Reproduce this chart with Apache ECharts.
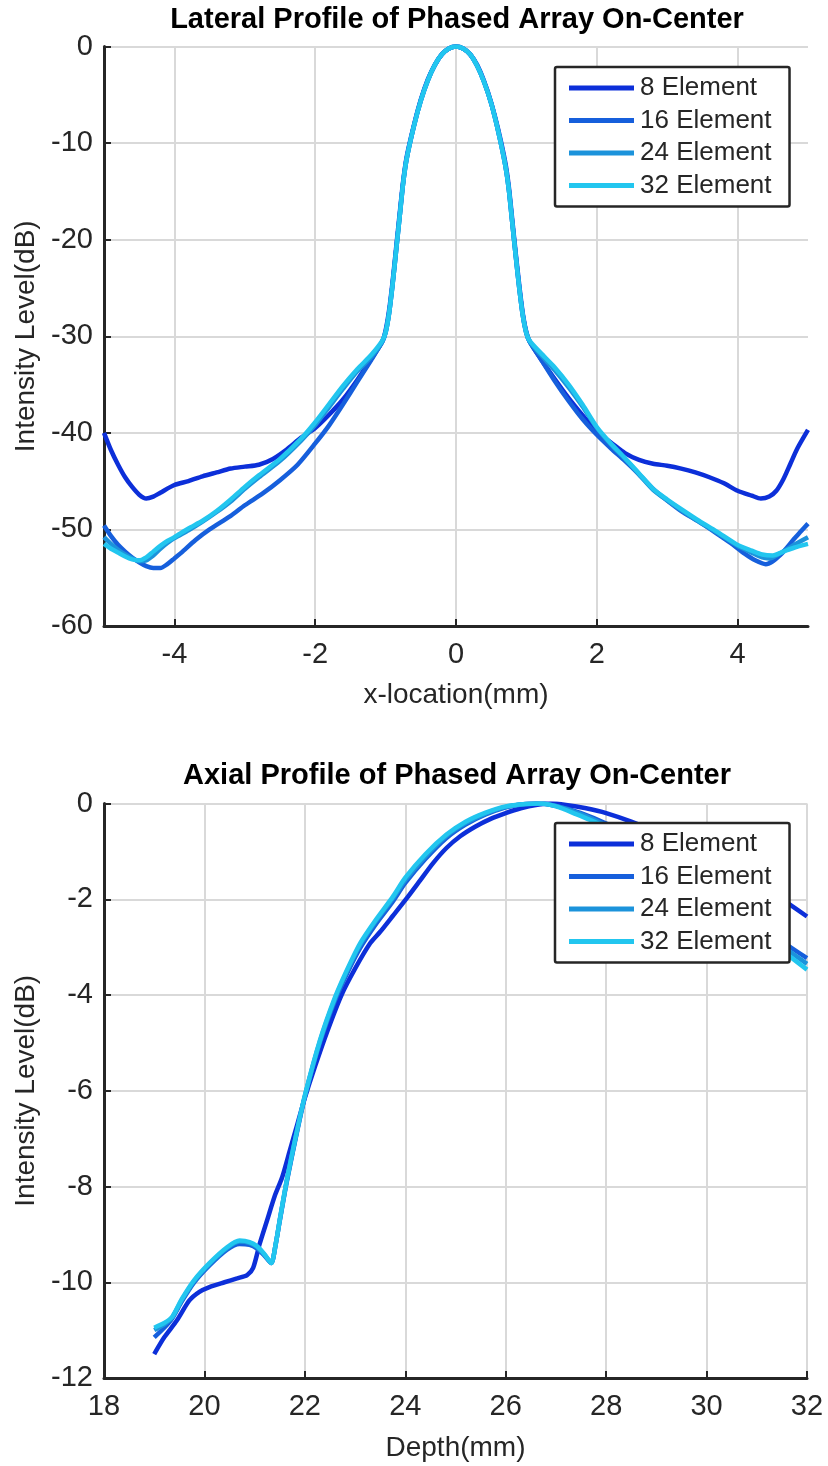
<!DOCTYPE html>
<html>
<head>
<meta charset="utf-8">
<script src="https://cdn.jsdelivr.net/npm/echarts@6/dist/echarts.min.js"></script>
<style>
  html, body { margin: 0; padding: 0; background: #ffffff; }
  #chart { width: 828px; height: 1466px; }
</style>
</head>
<body>
<div id="chart"></div>
<script>
// Element counts shown in both panels
const seriesNames = ['8 Element', '16 Element', '24 Element', '32 Element'];
const lineColors = ['#0c2fd9', '#165fdc', '#1c93db', '#22c6ef'];

// Lateral panel ticks
const lateralXTicks = [-4, -2, 0, 2, 4];
const lateralYTicks = [-60, -50, -40, -30, -20, -10, 0];
// Axial panel ticks
const axialXTicks = [18, 20, 22, 24, 26, 28, 30, 32];
const axialYTicks = [-12, -10, -8, -6, -4, -2, 0];

// Lateral profiles: [x-location (mm), intensity (dB)]
const lateral8 = [
  [-5.0, -40.0], [-4.9, -41.8], [-4.8, -43.3], [-4.7, -44.6], [-4.6, -45.6], [-4.5, -46.4],
  [-4.4, -46.8], [-4.3, -46.6], [-4.2, -46.2], [-4.0, -45.4], [-3.8, -45.0], [-3.6, -44.5],
  [-3.4, -44.1], [-3.2, -43.7], [-3.0, -43.5], [-2.8, -43.3], [-2.6, -42.7], [-2.4, -41.7],
  [-2.2, -40.5], [-2.0, -39.5], [-1.8, -38.1], [-1.6, -36.5], [-1.4, -34.5], [-1.2, -32.3],
  [-1.05, -30.6], [-1.0, -29.4], [-0.95, -27.3], [-0.9, -24.3], [-0.85, -20.8], [-0.8, -17.3],
  [-0.75, -13.9], [-0.7, -11.4], [-0.6, -8.2], [-0.5, -5.5], [-0.4, -3.4], [-0.3, -1.9],
  [-0.2, -0.8], [-0.1, -0.2], [0.0, 0.0], [0.1, -0.2], [0.2, -0.8], [0.3, -1.9],
  [0.4, -3.6], [0.5, -5.8], [0.6, -8.6], [0.7, -12.0], [0.75, -14.5], [0.8, -18.0],
  [0.85, -21.5], [0.9, -24.8], [0.95, -27.7], [1.0, -29.6], [1.05, -30.6], [1.2, -32.3],
  [1.4, -34.4], [1.6, -36.4], [1.8, -38.2], [2.0, -39.9], [2.2, -41.0], [2.4, -42.1],
  [2.6, -42.8], [2.8, -43.2], [3.0, -43.4], [3.2, -43.7], [3.4, -44.1], [3.6, -44.6],
  [3.8, -45.2], [4.0, -46.0], [4.2, -46.5], [4.33, -46.8], [4.45, -46.6], [4.55, -46.0],
  [4.65, -44.8], [4.75, -43.2], [4.85, -41.6], [5.0, -39.7]
];
const lateral16 = [
  [-5.0, -49.6], [-4.9, -50.7], [-4.8, -51.6], [-4.7, -52.3], [-4.6, -52.9], [-4.5, -53.4],
  [-4.4, -53.8], [-4.3, -54.0], [-4.2, -54.0], [-4.1, -53.6], [-4.0, -53.0], [-3.9, -52.4],
  [-3.7, -51.1], [-3.5, -50.0], [-3.2, -48.6], [-3.0, -47.5], [-2.75, -46.3], [-2.5, -44.9],
  [-2.25, -43.3], [-2.0, -41.1], [-1.8, -39.2], [-1.6, -37.0], [-1.4, -34.7], [-1.2, -32.4],
  [-1.05, -30.6], [-1.0, -29.6], [-0.95, -27.6], [-0.9, -24.6], [-0.85, -21.1], [-0.8, -17.6],
  [-0.75, -14.1], [-0.7, -11.6], [-0.6, -8.3], [-0.5, -5.6], [-0.4, -3.5], [-0.3, -1.9],
  [-0.2, -0.8], [-0.1, -0.2], [0.0, 0.0], [0.1, -0.2], [0.2, -0.8], [0.3, -2.0],
  [0.4, -3.7], [0.5, -5.9], [0.6, -8.8], [0.7, -12.3], [0.75, -14.8], [0.8, -18.3],
  [0.85, -21.8], [0.9, -25.1], [0.95, -27.9], [1.0, -29.7], [1.05, -30.6], [1.2, -32.3],
  [1.4, -34.6], [1.6, -36.7], [1.8, -38.6], [2.0, -40.2], [2.2, -41.6], [2.4, -42.9],
  [2.6, -44.3], [2.8, -45.8], [3.0, -47.0], [3.2, -48.1], [3.45, -49.2], [3.7, -50.4],
  [3.9, -51.4], [4.1, -52.5], [4.25, -53.2], [4.4, -53.6], [4.5, -53.3], [4.6, -52.7],
  [4.7, -51.9], [4.8, -51.0], [4.9, -50.2], [5.0, -49.4]
];
const lateral24 = [
  [-5.0, -50.8], [-4.9, -51.5], [-4.8, -52.1], [-4.7, -52.6], [-4.6, -53.0], [-4.5, -53.3],
  [-4.4, -53.2], [-4.3, -52.7], [-4.2, -52.0], [-4.1, -51.4], [-4.0, -50.9], [-3.8, -50.1],
  [-3.6, -49.2], [-3.4, -48.2], [-3.2, -47.1], [-3.0, -45.8], [-2.8, -44.6], [-2.5, -42.9],
  [-2.2, -40.8], [-2.0, -39.2], [-1.8, -37.3], [-1.6, -35.4], [-1.4, -33.6], [-1.2, -32.1],
  [-1.05, -30.6], [-1.0, -29.6], [-0.95, -27.6], [-0.9, -24.6], [-0.85, -21.1], [-0.8, -17.6],
  [-0.75, -14.1], [-0.7, -11.6], [-0.6, -8.3], [-0.5, -5.6], [-0.4, -3.5], [-0.3, -1.9],
  [-0.2, -0.8], [-0.1, -0.2], [0.0, 0.0], [0.1, -0.2], [0.2, -0.8], [0.3, -2.0],
  [0.4, -3.7], [0.5, -5.9], [0.6, -8.8], [0.7, -12.3], [0.75, -14.8], [0.8, -18.3],
  [0.85, -21.8], [0.9, -25.1], [0.95, -27.9], [1.0, -29.7], [1.05, -30.6], [1.2, -31.9],
  [1.4, -33.5], [1.6, -35.3], [1.8, -37.3], [2.0, -39.5], [2.2, -41.2], [2.4, -42.7],
  [2.6, -44.3], [2.8, -45.9], [3.0, -47.0], [3.2, -48.0], [3.45, -49.2], [3.7, -50.3],
  [4.0, -51.7], [4.2, -52.4], [4.35, -52.9], [4.45, -53.0], [4.6, -52.5], [4.8, -51.6],
  [5.0, -50.8]
];
const lateral32 = [
  [-5.0, -51.5], [-4.9, -52.0], [-4.8, -52.4], [-4.7, -52.8], [-4.6, -53.1], [-4.5, -53.2],
  [-4.4, -52.9], [-4.3, -52.3], [-4.2, -51.7], [-4.1, -51.2], [-4.0, -50.8], [-3.8, -49.9],
  [-3.6, -49.1], [-3.4, -48.1], [-3.2, -46.9], [-3.0, -45.6], [-2.8, -44.4], [-2.5, -42.7],
  [-2.2, -40.6], [-2.0, -38.9], [-1.8, -37.0], [-1.6, -35.1], [-1.4, -33.4], [-1.2, -31.9],
  [-1.05, -30.5], [-1.0, -29.6], [-0.95, -27.6], [-0.9, -24.6], [-0.85, -21.1], [-0.8, -17.6],
  [-0.75, -14.1], [-0.7, -11.6], [-0.6, -8.3], [-0.5, -5.6], [-0.4, -3.5], [-0.3, -1.9],
  [-0.2, -0.8], [-0.1, -0.2], [0.0, 0.0], [0.1, -0.2], [0.2, -0.8], [0.3, -2.0],
  [0.4, -3.7], [0.5, -5.9], [0.6, -8.8], [0.7, -12.3], [0.75, -14.8], [0.8, -18.3],
  [0.85, -21.8], [0.9, -25.1], [0.95, -27.9], [1.0, -29.7], [1.05, -30.5], [1.2, -31.7],
  [1.4, -33.2], [1.6, -35.0], [1.8, -37.1], [2.0, -39.4], [2.2, -41.1], [2.4, -42.6],
  [2.6, -44.2], [2.8, -45.8], [3.0, -46.9], [3.2, -47.9], [3.45, -49.1], [3.7, -50.2],
  [4.0, -51.6], [4.2, -52.2], [4.35, -52.6], [4.5, -52.7], [4.65, -52.3], [4.8, -51.9],
  [5.0, -51.5]
];

// Axial profiles: [depth (mm), intensity (dB)]
const axial8 = [
  [19.0, -11.5], [19.2, -11.15], [19.45, -10.8], [19.7, -10.38], [19.9, -10.2], [20.1, -10.1],
  [20.4, -10.0], [20.65, -9.92], [20.85, -9.85], [20.97, -9.7], [21.1, -9.2], [21.25, -8.7],
  [21.4, -8.2], [21.55, -7.8], [21.7, -7.25], [21.85, -6.7], [22.0, -6.15], [22.2, -5.5],
  [22.45, -4.75], [22.73, -4.0], [23.0, -3.45], [23.3, -2.92], [23.5, -2.68], [23.75, -2.35],
  [24.05, -1.95], [24.3, -1.6], [24.55, -1.25], [24.82, -0.93], [25.1, -0.68], [25.4, -0.48],
  [25.7, -0.32], [26.0, -0.2], [26.3, -0.1], [26.6, -0.03], [26.9, 0.0], [27.2, -0.03],
  [27.6, -0.1], [28.0, -0.2], [28.5, -0.38], [29.0, -0.6], [29.5, -0.85], [30.0, -1.1],
  [30.5, -1.38], [31.0, -1.68], [31.6, -2.07], [32.0, -2.36]
];
const axial16 = [
  [19.0, -11.15], [19.2, -10.95], [19.36, -10.75], [19.55, -10.4], [19.8, -10.0], [20.1, -9.65],
  [20.45, -9.32], [20.7, -9.2], [20.9, -9.22], [21.05, -9.3], [21.2, -9.45], [21.33, -9.6],
  [21.42, -9.2], [21.5, -8.72], [21.64, -7.9], [21.83, -6.93], [22.0, -6.13], [22.3, -5.0],
  [22.6, -4.12], [22.85, -3.53], [23.1, -3.02], [23.4, -2.54], [23.75, -2.05], [24.0, -1.66],
  [24.4, -1.16], [24.82, -0.72], [25.2, -0.44], [25.6, -0.23], [26.0, -0.08], [26.3, -0.02],
  [26.6, 0.0], [27.0, -0.05], [27.5, -0.2], [28.0, -0.42], [28.5, -0.7], [29.0, -1.02],
  [29.5, -1.36], [30.0, -1.72], [30.5, -2.1], [31.0, -2.5], [31.6, -2.95], [32.0, -3.23]
];
const axial24 = [
  [19.0, -11.0], [19.2, -10.88], [19.36, -10.73], [19.55, -10.37], [19.8, -9.97], [20.1, -9.62],
  [20.45, -9.29], [20.7, -9.15], [20.9, -9.18], [21.05, -9.27], [21.2, -9.43], [21.33, -9.6],
  [21.42, -9.2], [21.5, -8.7], [21.64, -7.88], [21.83, -6.91], [22.0, -6.11], [22.3, -4.97],
  [22.6, -4.08], [22.85, -3.48], [23.1, -2.96], [23.4, -2.48], [23.75, -1.99], [24.0, -1.6],
  [24.4, -1.11], [24.82, -0.68], [25.2, -0.41], [25.6, -0.21], [26.0, -0.07], [26.4, -0.01],
  [26.65, 0.0], [27.0, -0.05], [27.5, -0.22], [28.0, -0.46], [28.5, -0.75], [29.0, -1.08],
  [29.5, -1.43], [30.0, -1.8], [30.5, -2.2], [31.0, -2.6], [31.6, -3.05], [32.0, -3.35]
];
const axial32 = [
  [19.0, -10.95], [19.2, -10.85], [19.36, -10.72], [19.55, -10.35], [19.8, -9.95], [20.1, -9.6],
  [20.45, -9.27], [20.7, -9.13], [20.9, -9.16], [21.05, -9.25], [21.2, -9.42], [21.33, -9.6],
  [21.42, -9.2], [21.5, -8.7], [21.64, -7.87], [21.83, -6.9], [22.0, -6.1], [22.3, -4.95],
  [22.6, -4.05], [22.85, -3.45], [23.1, -2.92], [23.4, -2.45], [23.75, -1.95], [24.0, -1.55],
  [24.4, -1.06], [24.82, -0.65], [25.2, -0.38], [25.6, -0.19], [26.0, -0.06], [26.4, -0.01],
  [26.7, 0.0], [27.0, -0.06], [27.4, -0.22], [27.7, -0.35], [28.0, -0.5], [28.5, -0.8],
  [29.0, -1.15], [29.5, -1.5], [30.0, -1.9], [30.5, -2.3], [31.0, -2.72], [31.6, -3.15],
  [32.0, -3.47]
];

const lateralData = [lateral8, lateral16, lateral24, lateral32];
const axialData = [axial8, axial16, axial24, axial32];

const inkColor = '#262626';
const gridColor = '#d9d9d9';
const fontFamily = '"Liberation Sans", Arial, Helvetica, sans-serif';

function valueAxis(gridIndex, min, max, ticks, labelMargin, extra) {
  return Object.assign({
    type: 'value',
    gridIndex: gridIndex,
    min: min,
    max: max,
    axisLine: { show: true, onZero: false, lineStyle: { color: inkColor, width: 3 } },
    axisTick: { show: true, inside: true, length: 7, customValues: ticks,
                lineStyle: { color: inkColor, width: 2 } },
    axisLabel: { show: true, customValues: ticks, color: inkColor, fontSize: 29,
                 fontFamily: fontFamily, margin: labelMargin },
    splitLine: { show: true, lineStyle: { color: gridColor, width: 2 } },
    nameTextStyle: { color: inkColor, fontSize: 28, fontFamily: fontFamily }
  }, extra || {});
}

function legendAt(top) {
  return {
    data: seriesNames,
    orient: 'vertical',
    left: 555,
    top: top,
    z: 20,
    icon: 'rect',
    itemWidth: 65,
    itemHeight: 5,
    itemGap: 6.5,
    selectedMode: false,
    backgroundColor: '#ffffff',
    borderColor: inkColor,
    borderWidth: 2.5,
    borderRadius: 2,
    padding: [8, 18, 8, 14],
    textStyle: { color: inkColor, fontSize: 26, fontFamily: fontFamily, padding: [0, 0, 0, 1] }
  };
}

const series = [];
seriesNames.forEach(function (name, i) {
  series.push({
    name: name, type: 'line', xAxisIndex: 0, yAxisIndex: 0,
    data: lateralData[i], showSymbol: false, smooth: 0.25, z: 2 + i,
    lineStyle: { color: lineColors[i], width: 4.5 }, itemStyle: { color: lineColors[i] },
    emphasis: { disabled: true }
  });
});
seriesNames.forEach(function (name, i) {
  series.push({
    name: name, type: 'line', xAxisIndex: 1, yAxisIndex: 1,
    data: axialData[i], showSymbol: false, smooth: 0.25, z: 2 + i,
    lineStyle: { color: lineColors[i], width: 4.5 }, itemStyle: { color: lineColors[i] },
    emphasis: { disabled: true }
  });
});

const option = {
  animation: false,
  backgroundColor: '#ffffff',
  title: [
    { text: 'Lateral Profile of Phased Array On-Center', left: 457, top: 5, textAlign: 'center',
      padding: 0, textStyle: { color: '#000000', fontSize: 29, fontWeight: 'bold', fontFamily: fontFamily } },
    { text: 'Axial Profile of Phased Array On-Center', left: 457, top: 761, textAlign: 'center',
      padding: 0, textStyle: { color: '#000000', fontSize: 29, fontWeight: 'bold', fontFamily: fontFamily } }
  ],
  legend: [legendAt(67), legendAt(823)],
  grid: [
    { left: 104, top: 46.5, width: 704, height: 579.5, containLabel: false },
    { left: 104, top: 803.5, width: 703, height: 574.5, containLabel: false }
  ],
  xAxis: [
    valueAxis(0, -5, 5, lateralXTicks, 14, { name: 'x-location(mm)', nameLocation: 'middle', nameGap: 55 }),
    valueAxis(1, 18, 32, axialXTicks, 14, { interval: 2, name: 'Depth(mm)', nameLocation: 'middle', nameGap: 56 })
  ],
  yAxis: [
    valueAxis(0, -60, 0, lateralYTicks, 11, { interval: 10, name: 'Intensity Level(dB)', nameLocation: 'middle', nameGap: 60 }),
    valueAxis(1, -12, 0, axialYTicks, 11, { interval: 2, name: 'Intensity Level(dB)', nameLocation: 'middle', nameGap: 60 })
  ],
  series: series
};

const chart = echarts.init(document.getElementById('chart'), null, { renderer: 'canvas' });
chart.setOption(option);
</script>
</body>
</html>
